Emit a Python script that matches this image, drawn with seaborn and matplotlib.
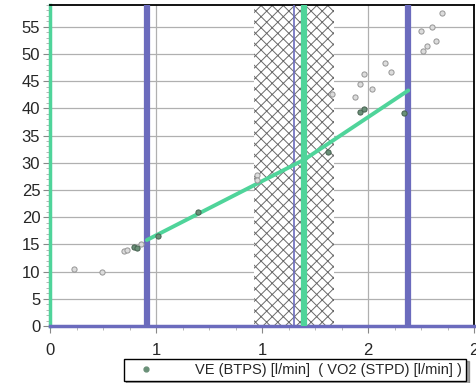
import matplotlib
matplotlib.use("Agg")
import matplotlib.pyplot as plt
import seaborn as sns
import pandas as pd
from matplotlib.ticker import FixedLocator, FixedFormatter, MultipleLocator

sns.set_style("white")
plt.rcParams['font.family'] = ['Liberation Sans', 'DejaVu Sans']
plt.rcParams['hatch.linewidth'] = 0.7
plt.rcParams['hatch.color'] = "#6a6a6a"

# data (VO2 l/min, VE l/min)
vo2 = [0.113, 0.245, 0.349, 0.363, 0.396, 0.41, 0.43, 0.51, 0.70, 0.976, 0.976,
       1.31, 1.33, 1.44, 1.46, 1.46, 1.48, 1.48, 1.52, 1.58, 1.61, 1.67,
       1.75, 1.76, 1.78, 1.80, 1.82, 1.85]
ve = [10.5, 9.9, 13.8, 13.9, 14.5, 14.3, 15.0, 16.5, 20.9, 27.7, 26.8,
      31.9, 42.6, 42.0, 39.4, 44.4, 39.8, 46.4, 43.5, 48.4, 46.6, 39.1,
      54.3, 50.5, 51.4, 55.0, 52.3, 57.6]
dark = [0, 0, 0, 0, 1, 1, 0, 1, 1, 0, 0,
        1, 0, 0, 1, 0, 1, 0, 0, 0, 0, 1,
        0, 0, 0, 0, 0, 0]
reg_x = [0.457, 1.20, 1.69]
reg_y = [15.8, 30.6, 43.3]
threshold_lines = [0.457, 1.69]
vt_thin = 1.15
vt_green = 1.20
hatch_span = [0.96, 1.34]
xtick_pos = [0, 0.5, 1.0, 1.5, 2.0]
xtick_labels = ["0", "1", "1", "2", "2"]
ytick_pos = list(range(0, 60, 5))

df = pd.DataFrame({"VO2": vo2, "VE": ve, "dark": dark})

fig = plt.figure(figsize=(4.76, 3.83), dpi=100)
ax = fig.add_axes([50/476, 1-326/383, 424/476, 321/383])

blue = "#6b6bbd"
green = "#4fd49a"

ax.axvspan(hatch_span[0], hatch_span[1], facecolor="white", edgecolor="#6a6a6a",
           hatch="xxx", linewidth=0, zorder=1)
for x in threshold_lines:
    ax.axvline(x, color=blue, lw=4.5, zorder=3)
ax.axvline(vt_thin, color=blue, lw=1.2, zorder=3)
ax.axvline(vt_green, color=green, lw=4.5, zorder=4)

sns.lineplot(x=reg_x, y=reg_y, ax=ax, color=green, lw=2.8, zorder=5, sort=False)

light = df[df.dark == 0]
darkd = df[df.dark == 1]
sns.scatterplot(data=light, x="VO2", y="VE", ax=ax, s=14, color="#dcdcdc",
                edgecolor="#959595", linewidth=0.7, zorder=6)
sns.scatterplot(data=darkd, x="VO2", y="VE", ax=ax, s=14, color="#6a9078",
                edgecolor="#45604f", linewidth=0.7, zorder=6)

ax.set_xlim(0, 2.0)
ax.set_ylim(0, 59)
ax.xaxis.set_major_locator(FixedLocator(xtick_pos))
ax.xaxis.set_major_formatter(FixedFormatter(xtick_labels))
ax.xaxis.set_minor_locator(MultipleLocator(0.125))
ax.yaxis.set_major_locator(FixedLocator(ytick_pos))
ax.yaxis.set_minor_locator(MultipleLocator(1))
ax.grid(True, which="major", color="#b0b0b0", lw=0.9, zorder=0)
ax.set_axisbelow(True)
ax.tick_params(axis="both", which="major", labelsize=12, length=5, color="#888888",
               direction="out", bottom=True, left=True)
ax.tick_params(axis="both", which="minor", length=3, color="#aaaaaa",
               direction="out", bottom=True, left=True)
ax.tick_params(axis="x", pad=7)
ax.tick_params(axis="y", pad=2)
ax.set_xlabel("")
ax.set_ylabel("")

for s in ["top", "right"]:
    ax.spines[s].set_color("black")
    ax.spines[s].set_linewidth(1.3)
ax.spines["left"].set_color(green)
ax.spines["left"].set_linewidth(2.5)
ax.spines["bottom"].set_color(blue)
ax.spines["bottom"].set_linewidth(2.5)

handle = plt.Line2D([], [], marker="o", ls="", color="#6a9078", markersize=3.5)
fig.legend([handle], ["VE (BTPS) [l/min]  ( VO2 (STPD) [l/min] )"],
           loc="center", bbox_to_anchor=(295/476, 1-370/383), frameon=True,
           fancybox=False, shadow=True, edgecolor="black", fontsize=10.5,
           borderpad=0.3, handletextpad=2.2, borderaxespad=0, handlelength=2.4)

fig.savefig("out.png", dpi=100)
